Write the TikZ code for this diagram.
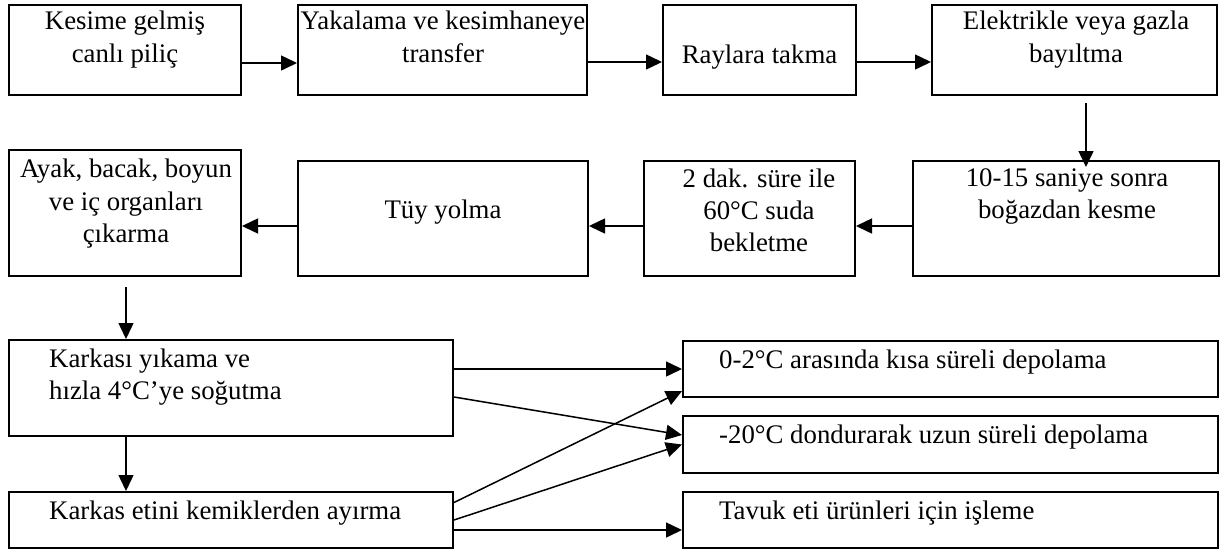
\documentclass[tikz,border=0pt]{standalone}
\usepackage{fontspec}
\setmainfont{Liberation Serif}
\usetikzlibrary{arrows.meta}
\begin{document}
\begin{tikzpicture}[x=1pt,y=-1pt,
  box/.style={draw, line width=2pt, inner sep=0pt, rectangle},
  txt/.style={inner sep=0pt, anchor=base, font=\fontsize{26.8}{32}\selectfont},
  ltxt/.style={txt, anchor=base west},
  arr/.style={line width=1.5pt, -{Triangle[length=16pt,width=15pt]}}]
\useasboundingbox (0,0) rectangle (1221,550);
% boxes
\node[box, minimum width=232pt, minimum height=90pt] (b1) at (125,50) {};
\node[box, minimum width=289pt, minimum height=90pt] (b2) at (442.5,50) {};
\node[box, minimum width=193pt, minimum height=90pt] (b3) at (759.5,50) {};
\node[box, minimum width=285pt, minimum height=90pt] (b4) at (1074.5,50) {};
\node[box, minimum width=306pt, minimum height=115pt] (b5) at (1066,218.5) {};
\node[box, minimum width=211pt, minimum height=115pt] (bdak) at (749.5,218.5) {};
\node[box, minimum width=290pt, minimum height=115pt] (btuy) at (443,218.5) {};
\node[box, minimum width=232pt, minimum height=126pt] (bayak) at (125,213) {};
\node[box, minimum width=444pt, minimum height=96pt] (bkarkasi) at (231,388) {};
\node[box, minimum width=444pt, minimum height=56pt] (betini) at (231,520) {};
\node[box, minimum width=535pt, minimum height=56pt] (r1) at (950.5,369) {};
\node[box, minimum width=535pt, minimum height=57pt] (r2) at (950.5,444.5) {};
\node[box, minimum width=535pt, minimum height=56pt] (r3) at (950.5,520) {};
% texts
\node[txt] (t1a) at (125,29) {Kesime gelmiş};
\node[txt] (t1b) at (125,62) {canlı piliç};
\node[txt] (t2a) at (443,29) {Yakalama ve kesimhaneye};
\node[txt] (t2b) at (443,62) {transfer};
\node[txt] (t3a) at (759.5,63) {Raylara takma};
\node[txt] (t4a) at (1076,29) {Elektrikle veya gazla};
\node[txt] (t4b) at (1076,62) {bayıltma};
\node[txt] (t5a) at (1067,186) {10-15 saniye sonra};
\node[txt] (t5b) at (1067,218) {boğazdan kesme};
\node[txt] (tda) at (759,187) {2 dak. süre ile};
\node[txt] (tdb) at (759,219) {60°C suda};
\node[txt] (tdc) at (759,251) {bekletme};
\node[txt] (tta) at (443,218) {Tüy yolma};
\node[txt] (taa) at (126,177) {Ayak, bacak, boyun};
\node[txt] (tab) at (126,210) {ve iç organları};
\node[txt] (tac) at (126,242) {çıkarma};
\node[ltxt] (tka) at (49,367) {Karkası yıkama ve};
\node[ltxt] (tkb) at (49,399) {hızla 4°C’ye soğutma};
\node[ltxt] (tea) at (49,519) {Karkas etini kemiklerden ayırma};
\node[ltxt] (tr1) at (719,368) {0-2°C arasında kısa süreli depolama};
\node[ltxt] (tr2) at (719,443) {-20°C dondurarak uzun süreli depolama};
\node[ltxt] (tr3) at (719,519) {Tavuk eti ürünleri için işleme};
% connectors
\draw[arr] ([yshift=-13pt]b1.east) -- ([yshift=-13pt]b2.west);
\draw[arr] ([yshift=-12pt]b2.east) -- ([yshift=-12pt]b3.west);
\draw[arr] ([yshift=-12pt]b3.east) -- ([yshift=-12pt]b4.west);
\draw[arr] ([xshift=11.5pt,yshift=-7pt]b4.south) -- ([xshift=11.5pt,yshift=-7pt]b4.south |- b5.north);
\draw[arr] ([yshift=-7.5pt]b5.west) -- ([yshift=-7.5pt]bdak.east);
\draw[arr] ([yshift=-7.5pt]bdak.west) -- ([yshift=-7.5pt]btuy.east);
\draw[arr] ([yshift=-7.5pt]btuy.west) -- ([yshift=-7.5pt]btuy.west -| bayak.east);
\draw[arr] ([xshift=1pt,yshift=-10pt]bayak.south) -- ([xshift=1pt]bayak.south |- bkarkasi.north);
\draw[arr] ([xshift=-105pt]bkarkasi.south) -- ([xshift=-105pt]bkarkasi.south |- betini.north);
\draw[arr] (r1.west -| bkarkasi.east) -- (r1.west);
\draw[arr] ([yshift=-9pt]bkarkasi.east) -- ([yshift=9.5pt]r2.west);
\draw[arr] ([yshift=17.5pt]betini.east) -- ([yshift=-22pt]r1.west);
\draw[arr] (betini.east) -- (r2.west);
\draw[arr] ([yshift=-10pt]betini.east) -- ([yshift=-10pt]r3.west);
\end{tikzpicture}
\end{document}
